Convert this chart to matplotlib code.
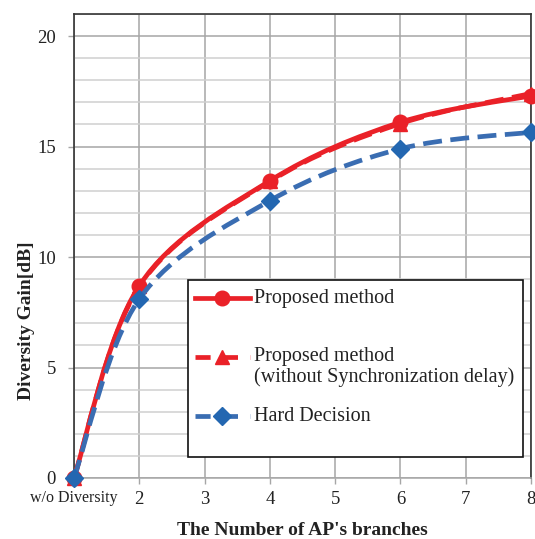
import numpy as np
import matplotlib
matplotlib.use('Agg')
import matplotlib.pyplot as plt
from matplotlib.path import Path
from matplotlib.patches import PathPatch, Rectangle
from matplotlib.lines import Line2D

# x positions: 1 = "w/o Diversity", then number of AP branches
branches = [1, 2, 4, 6, 8]
proposed = [0.0, 8.7, 13.45, 16.1, 17.3]
proposed_no_sync = [0.0, 8.67, 13.42, 16.04, 17.4]
hard_decision = [0.0, 8.1, 12.55, 14.9, 15.65]

x_ticks = [1, 2, 3, 4, 5, 6, 7, 8]
x_tick_labels = ['w/o Diversity', '2', '3', '4', '5', '6', '7', '8']
y_ticks = [0, 5, 10, 15, 20]

RED = '#ea2128'
BLUE = '#3a6db2'
BLUE_MARK = '#2367b1'

plt.rcParams['font.family'] = ['Liberation Serif', 'DejaVu Serif']


def smooth_path(xs, ys):
    # Excel style smoothed line: cubic bezier segments through the points
    pts = np.column_stack([xs, ys]).astype(float)
    n = len(pts)
    verts = [pts[0]]
    codes = [Path.MOVETO]
    for i in range(n - 1):
        p0 = pts[max(i - 1, 0)]
        p1 = pts[i]
        p2 = pts[i + 1]
        p3 = pts[min(i + 2, n - 1)]
        verts += [p1 + (p2 - p0) / 6, p2 - (p3 - p1) / 6, p2]
        codes += [Path.CURVE4] * 3
    return Path(verts, codes)


fig = plt.figure(figsize=(5.35, 5.39), dpi=100)
ax = fig.add_axes([74 / 535, 61 / 539, 457 / 535, 464 / 539])

ax.set_xlim(1, 8)
ax.set_ylim(0, 21)

# grid
ax.set_yticks(np.arange(0, 22, 1), minor=True)
ax.grid(True, which='minor', axis='y', color='#cfcfcf', lw=1.1)
ax.grid(True, which='major', axis='y', color='#a6a6a6', lw=1.1)
ax.grid(True, which='major', axis='x', color='#a6a6a6', lw=1.1)
ax.set_axisbelow(True)

lw = 3.4
dash = (0, (4.0, 1.8))

ax.add_patch(PathPatch(smooth_path(branches, proposed_no_sync), fill=False,
                       edgecolor=RED, lw=lw, linestyle=dash, zorder=3))
ax.add_patch(PathPatch(smooth_path(branches, proposed), fill=False,
                       edgecolor=RED, lw=lw, capstyle='round', zorder=3))
ax.plot(branches, proposed, ls='none', marker='o', ms=10.5, color=RED,
        zorder=4, clip_on=False)
ax.plot(branches, proposed_no_sync, ls='none', marker='^', ms=10, color=RED,
        zorder=4, clip_on=False)

ax.add_patch(PathPatch(smooth_path(branches, hard_decision), fill=False,
                       edgecolor=BLUE, lw=lw, linestyle=dash, zorder=5))
ax.plot(branches, hard_decision, ls='none', marker='D', ms=9, color=BLUE_MARK,
        zorder=6, clip_on=False)

# ticks
ax.set_xticks(x_ticks)
ax.set_xticklabels(x_tick_labels, fontsize=13.5)
ax.get_xticklabels()[0].set_fontsize(11.5)
ax.set_yticks(y_ticks)
ax.tick_params(axis='x', which='major', length=4, width=1, color='#a6a6a6',
               pad=5, labelcolor='#222222')
ax.tick_params(axis='y', which='major', length=4, width=1, color='#a6a6a6',
               pad=9, labelsize=13.5, labelcolor='#222222')
ax.tick_params(axis='y', which='minor', length=0)

for side in ['top', 'right', 'left']:
    ax.spines[side].set_color('#333333')
    ax.spines[side].set_linewidth(1.2)
ax.spines['bottom'].set_color('#a6a6a6')
ax.spines['bottom'].set_linewidth(1.1)

ax.set_xlabel("The Number of AP's branches", fontsize=14, fontweight='bold',
              color='#222222')
ax.xaxis.set_label_coords(0.5, -0.094)
ax.set_ylabel('Diversity Gain[dB]', fontsize=14, fontweight='bold',
              color='#222222')
ax.yaxis.set_label_coords(-0.086, 0.34)

# legend box drawn in axes fraction coordinates
tr = ax.transAxes
ax.add_patch(Rectangle((0.2495, 0.0453), 0.733, 0.3814, transform=tr,
                       facecolor='white', edgecolor='#111111', lw=1.2,
                       zorder=7))
hx = [0.2648, 0.3851]
mx = 0.3239
tx = 0.3939
rows = [0.3879, 0.2608, 0.1336]
ax.add_line(Line2D(hx, [rows[0]] * 2, transform=tr, color=RED, lw=lw,
                   zorder=8))
ax.add_line(Line2D([mx], [rows[0]], transform=tr, color=RED, marker='o',
                   ms=10.5, zorder=9))
ax.add_line(Line2D(hx, [rows[1]] * 2, transform=tr, color=RED, lw=lw,
                   linestyle=(0, (3.2, 2.6)), zorder=8))
ax.add_line(Line2D([mx], [rows[1]], transform=tr, color=RED, marker='^',
                   ms=10, zorder=9))
ax.add_line(Line2D(hx, [rows[2]] * 2, transform=tr, color=BLUE, lw=lw,
                   linestyle=(0, (3.2, 2.6)), zorder=8))
ax.add_line(Line2D([mx], [rows[2]], transform=tr, color=BLUE_MARK,
                   marker='D', ms=9, zorder=9))

ax.text(tx, rows[0], 'Proposed method', transform=tr, fontsize=14.5,
        va='center', ha='left', color='#222222', zorder=9)
ax.text(tx, rows[1] + 0.021, 'Proposed method\n(without Synchronization delay)',
        transform=tr, fontsize=14.5, va='top', ha='left', color='#222222',
        linespacing=1.05, zorder=9)
ax.text(tx, rows[2], 'Hard Decision', transform=tr, fontsize=14.5,
        va='center', ha='left', color='#222222', zorder=9)

fig.savefig('out.png', dpi=100)
plt.close(fig)
